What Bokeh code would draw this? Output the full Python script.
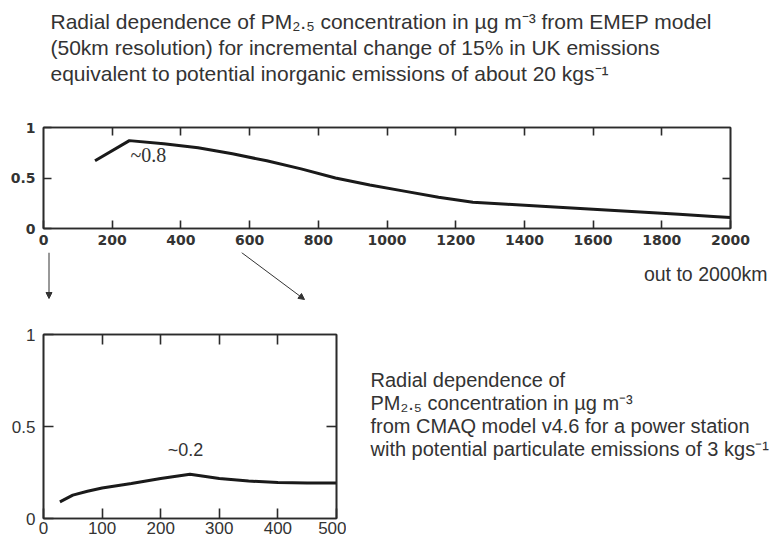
from bokeh.plotting import figure
from bokeh.models import Label, Arrow, NormalHead, LinearAxis, FixedTicker, Range1d
from bokeh.layouts import column, row
from bokeh.embed import file_html
from bokeh.resources import INLINE

# EMEP model: radial PM2.5 increment (µg m-3) versus distance (km)
emep_km = [150, 250, 350, 450, 550, 650, 750, 850, 950, 1050,
           1150, 1250, 1350, 1450, 1550, 1650, 1750, 1850, 1950, 2000]
emep_conc = [0.67, 0.87, 0.84, 0.80, 0.74, 0.67, 0.59, 0.50, 0.43, 0.37,
             0.31, 0.26, 0.24, 0.22, 0.20, 0.18, 0.16, 0.14, 0.12, 0.11]

# CMAQ v4.6: radial PM2.5 increment around a single power station
cmaq_km = [28, 50, 75, 100, 150, 200, 250, 300, 350, 400, 450, 500]
cmaq_conc = [0.09, 0.127, 0.148, 0.166, 0.19, 0.217, 0.24, 0.217, 0.204, 0.195, 0.193, 0.193]

# tick positions and labels
emep_xticks = [0, 200, 400, 600, 800, 1000, 1200, 1400, 1600, 1800, 2000]
cmaq_xticks = [0, 100, 200, 300, 400, 500]
conc_ticks = [0, 0.5, 1]
conc_tick_labels = ["0", "0.5", "1"]

# texts
title_lines = [
    "Radial dependence of PM\u2082.\u2085 concentration in \u00b5g m\u207b\u00b3 from EMEP model",
    "(50km resolution) for incremental change of 15% in UK emissions",
    "equivalent to potential inorganic emissions of about 20 kgs\u207b\u00b9",
]
cmaq_lines = [
    "Radial dependence of",
    "PM\u2082.\u2085 concentration in \u00b5g m\u207b\u00b3",
    "from CMAQ model v4.6 for a power station",
    "with potential particulate emissions of 3 kgs\u207b\u00b9",
]
emep_peak_note = "~0.8"
cmaq_peak_note = "~0.2"
range_note = "out to 2000km"

SANS = "Liberation Sans"
INK = "#2b2b2b"
TEXT = "#333333"


def canvas(w, h):
    """Blank pixel-space figure used to hold free text and pointers."""
    c = figure(width=w, height=h, x_range=Range1d(0, w), y_range=Range1d(h, 0),
               min_border=0, x_axis_type=None, y_axis_type=None,
               output_backend="svg", toolbar_location=None,
               background_fill_color="white", border_fill_color="white",
               outline_line_color=None)
    return c


def text_at(c, x, y, s, size="20px", font=SANS, align="left"):
    c.add_layout(Label(x=x, y=y, text=s, text_font=font, text_font_size=size,
                       text_color=TEXT, text_align=align, text_baseline="middle"))


def style_axes(p, xticks, tick_font, tick_size, tick_style, tick_len, xstand, ystand):
    bottom = p.below[0]
    left = p.left[0]
    bottom.ticker = FixedTicker(ticks=xticks)
    left.ticker = FixedTicker(ticks=conc_ticks)
    left.major_label_overrides = {t: l for t, l in zip(conc_ticks, conc_tick_labels)}
    inner = [t for t in xticks if t not in (xticks[0], xticks[-1])]
    top = LinearAxis(ticker=FixedTicker(ticks=inner))
    right = LinearAxis(ticker=FixedTicker(ticks=[0.5]))
    p.add_layout(top, "above")
    p.add_layout(right, "right")
    for ax in [bottom, left, top, right]:
        ax.axis_line_color = INK
        ax.axis_line_width = 1.6
        ax.major_tick_line_color = INK
        ax.major_tick_line_width = 1.6
        ax.major_tick_in = tick_len
        ax.major_tick_out = 0
        ax.minor_tick_line_color = None
        ax.major_label_text_font = tick_font
        ax.major_label_text_font_size = tick_size
        ax.major_label_text_font_style = tick_style
        ax.major_label_text_color = TEXT
    bottom.major_label_standoff = xstand
    left.major_label_standoff = ystand
    for ax in [top, right]:
        ax.major_label_text_color = None
        ax.major_label_text_font_size = "1px"
        ax.major_label_standoff = 0
    p.xgrid.visible = False
    p.ygrid.visible = False
    p.outline_line_color = INK
    p.outline_line_width = 1.6


# ---- heading ----
head = canvas(784, 100)
for line, ty in zip(title_lines, [21, 47, 73]):
    text_at(head, 50, ty, line, size="21px")

# ---- upper panel: EMEP out to 2000 km ----
p1 = figure(frame_width=687, frame_height=101,
            min_border_left=43, min_border_right=54,
            min_border_top=27, min_border_bottom=24,
            x_range=Range1d(0, 2000), y_range=Range1d(0, 1),
            output_backend="svg", toolbar_location=None,
            background_fill_color="white", border_fill_color="white")
style_axes(p1, emep_xticks, "DejaVu Sans", "14px", "bold", 8, 6, 8)
p1.line(emep_km, emep_conc, line_color="#1a1a1a", line_width=3)
p1.add_layout(Label(x=253, y=0.73, text=emep_peak_note, text_font="Liberation Serif",
                    text_font_size="20px", text_color=TEXT, text_baseline="middle"))

# ---- pointers from the large-scale panel down to the local panel ----
mid = canvas(784, 58)
text_at(mid, 767, 21, range_note, size="19.5px", align="right")
pointer_head = dict(size=6, fill_color="#333333", line_color="#333333")
mid.add_layout(Arrow(x_start=48.5, y_start=0, x_end=48.5, y_end=46,
                     line_color="#333333", line_width=1,
                     end=NormalHead(**pointer_head)))
mid.add_layout(Arrow(x_start=241, y_start=0, x_end=304, y_end=47,
                     line_color="#333333", line_width=1,
                     end=NormalHead(**pointer_head)))

# ---- lower panel: CMAQ out to 500 km ----
p2 = figure(frame_width=293, frame_height=184,
            min_border_left=43, min_border_right=10,
            min_border_top=24, min_border_bottom=23,
            x_range=Range1d(0, 500), y_range=Range1d(0, 1),
            output_backend="svg", toolbar_location=None,
            background_fill_color="white", border_fill_color="white")
style_axes(p2, cmaq_xticks, SANS, "17px", "normal", 10, 3, 8)
p2.line(cmaq_km, cmaq_conc, line_color="#1a1a1a", line_width=3)
p2.add_layout(Label(x=212, y=0.37, text=cmaq_peak_note, text_font=SANS,
                    text_font_size="18px", text_color=TEXT, text_baseline="middle"))

side = canvas(784 - 346, 231)
for line, ty in zip(cmaq_lines, [69, 92, 115, 138]):
    text_at(side, 24, ty, line, size="20px")

# each strip in its own wrapper so the canvases keep their own frames
layout = column(row(head), row(p1), row(mid),
                row(column(p2), column(side), spacing=0), spacing=0)
open("out.html", "w").write(file_html(layout, INLINE))
